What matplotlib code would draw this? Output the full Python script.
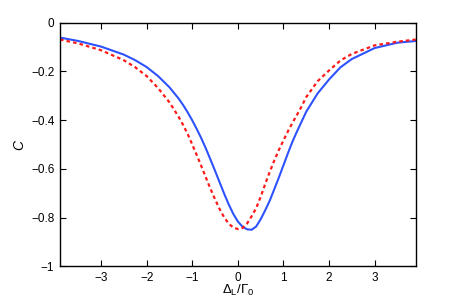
import numpy as np
import matplotlib
matplotlib.use('Agg')
import matplotlib.pyplot as plt

# detuning grid (Delta_L / Gamma_0)
x_vals = [-3.9, -3.5, -3.0, -2.5, -2.25, -2.0, -1.75, -1.5,
          -1.3, -1.2, -1.1, -1.0, -0.9, -0.8, -0.7, -0.6, -0.5, -0.4, -0.3,
          -0.2, -0.1, 0.0, 0.1, 0.2, 0.3, 0.4, 0.5, 0.6, 0.7, 0.8, 0.9, 1.0,
          1.1, 1.2, 1.3, 1.4, 1.5,
          1.75, 2.0, 2.25, 2.5, 3.0, 3.5, 3.9]

# solid blue curve
c_blue = [-0.061, -0.075, -0.098, -0.131, -0.154, -0.182, -0.219, -0.265,
          -0.311, -0.338, -0.368, -0.401, -0.437, -0.475, -0.517, -0.562,
          -0.608, -0.655, -0.702, -0.746, -0.785, -0.816, -0.837, -0.848,
          -0.850, -0.837, -0.807, -0.770, -0.730, -0.683, -0.635, -0.585,
          -0.535, -0.487, -0.445, -0.405, -0.365,
          -0.290, -0.233, -0.183, -0.149, -0.104, -0.082, -0.075]

# dashed red curve
c_red = [-0.069, -0.085, -0.113, -0.154, -0.183, -0.219, -0.268, -0.327,
         -0.386, -0.420, -0.457, -0.500, -0.544, -0.589, -0.636, -0.682,
         -0.725, -0.765, -0.799, -0.825, -0.841, -0.847, -0.843, -0.825,
         -0.795, -0.762, -0.715, -0.662, -0.612, -0.565, -0.522, -0.483,
         -0.445, -0.410, -0.377, -0.343, -0.305,
         -0.240, -0.196, -0.155, -0.128, -0.093, -0.078, -0.069]

plt.rcParams['font.family'] = ['Liberation Sans', 'DejaVu Sans']
plt.rcParams['font.size'] = 8.5
plt.rcParams['mathtext.fontset'] = 'custom'
plt.rcParams['mathtext.rm'] = 'Liberation Sans'
plt.rcParams['mathtext.it'] = 'Liberation Sans:italic'

fig = plt.figure(figsize=(4.59, 3.0), dpi=100)
ax = fig.add_axes([0.1307, 0.1123, 0.775, 0.812])

ax.plot(x_vals, c_blue, color='#2f52ff', lw=1.5, solid_joinstyle='round')
ax.plot(x_vals, c_red, color='#ff1a1a', lw=1.6, linestyle=(0, (1.6, 1.4)))

ax.set_xlim(-3.9, 3.9)
ax.set_ylim(-1, 0)
ax.set_xticks([-3, -2, -1, 0, 1, 2, 3])
ax.set_yticks([-1, -0.8, -0.6, -0.4, -0.2, 0])
ax.set_yticklabels(['\u22121', '\u22120.8', '\u22120.6', '\u22120.4', '\u22120.2', '0'])
ax.set_xticklabels(['\u22123', '\u22122', '\u22121', '0', '1', '2', '3'])
ax.tick_params(direction='in', length=4, width=0.8, top=True, right=True, pad=4)
for s in ax.spines.values():
    s.set_linewidth(1.0)

ax.set_xlabel(r'$\Delta_{\rm L}/\Gamma_{0}$', fontsize=9.5, labelpad=-1)
ax.set_ylabel(r'$C$', fontsize=10, labelpad=3)

plt.savefig('out.png', dpi=100)
